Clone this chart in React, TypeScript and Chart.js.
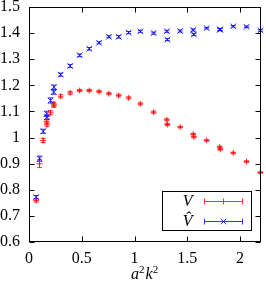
import React, { useEffect, useRef } from 'react';
import { Chart, registerables } from 'chart.js';

Chart.register(...registerables);

// ---- data ----
const a2k2 = [0.068, 0.100, 0.134, 0.167, 0.170, 0.204, 0.234, 0.236, 0.300, 0.390, 0.480, 0.571, 0.664, 0.757, 0.850, 0.944, 1.055, 1.181, 1.306, 1.311, 1.433, 1.556, 1.562, 1.683, 1.807, 1.812, 1.935, 2.061, 2.192];
const vValues = [0.759, 0.900, 0.989, 1.062, 1.049, 1.095, 1.128, 1.124, 1.158, 1.171, 1.180, 1.180, 1.176, 1.168, 1.161, 1.152, 1.129, 1.097, 1.068, 1.050, 1.040, 1.013, 1.002, 0.989, 0.964, 0.955, 0.941, 0.908, 0.866];
const vErrors = [0.006, 0.015, 0.008, 0.006, 0.006, 0.008, 0.008, 0.008, 0.006, 0.005, 0.004, 0.004, 0.004, 0.004, 0.005, 0.004, 0.004, 0.004, 0.004, 0.004, 0.003, 0.003, 0.003, 0.003, 0.003, 0.003, 0.003, 0.003, 0.003];
const vhatValues = [0.772, 0.919, 1.024, 1.091, 1.078, 1.142, 1.174, 1.193, 1.241, 1.274, 1.315, 1.340, 1.363, 1.386, 1.386, 1.402, 1.407, 1.400, 1.407, 1.375, 1.408, 1.412, 1.395, 1.419, 1.413, 1.414, 1.426, 1.424, 1.410];
const vhatErrors = [0.006, 0.010, 0.008, 0.010, 0.008, 0.010, 0.008, 0.008, 0.006, 0.006, 0.005, 0.005, 0.004, 0.004, 0.005, 0.004, 0.004, 0.004, 0.004, 0.004, 0.004, 0.004, 0.004, 0.003, 0.004, 0.004, 0.003, 0.003, 0.003];

const xTickValues = [0, 0.5, 1, 1.5, 2];
const yTickValues = [0.6, 0.7, 0.8, 0.9, 1.0, 1.1, 1.2, 1.3, 1.4, 1.5];
const legendLabels = ['V', 'V\u0302'];
const xTitleBase = ['a', 'k'];
const xTitleSup = '2';

const FONT = '"Liberation Serif", "DejaVu Serif", serif';
const RED = '#ff0000';
const BLUE = '#0000ff';
const MARK_W = 0.8;

const errorBarPlugin = {
  id: 'errorBars',
  beforeDatasetsDraw(chart: any) {
    const ctx = chart.ctx;
    const xs = chart.scales.x;
    const ys = chart.scales.y;
    chart.data.datasets.forEach((ds: any) => {
      ctx.save();
      ctx.strokeStyle = ds.borderColor;
      ctx.lineWidth = MARK_W;
      ds.data.forEach((p: any, i: number) => {
        const e = ds.errors[i];
        const px = xs.getPixelForValue(p.x);
        const y1 = ys.getPixelForValue(p.y - e);
        const y2 = ys.getPixelForValue(p.y + e);
        ctx.beginPath();
        ctx.moveTo(px, y1);
        ctx.lineTo(px, y2);
        ctx.moveTo(px - 2.5, y1);
        ctx.lineTo(px + 2.5, y1);
        ctx.moveTo(px - 2.5, y2);
        ctx.lineTo(px + 2.5, y2);
        ctx.stroke();
      });
      ctx.restore();
    });
  },
};

const framePlugin = {
  id: 'frame',
  afterDraw(chart: any) {
    const ctx = chart.ctx;
    const { left, right, top, bottom } = chart.chartArea;
    const xs = chart.scales.x;
    const ys = chart.scales.y;
    const L = Math.round(left) + 0.5;
    const R = Math.round(right) - 0.5;
    const T = Math.round(top) + 0.5;
    const B = Math.round(bottom) - 0.5;
    ctx.save();
    ctx.strokeStyle = '#000';
    ctx.lineWidth = 1;
    ctx.strokeRect(L, T, R - L, B - T);
    ctx.beginPath();
    const tl = 5;
    xTickValues.forEach((v) => {
      const px = Math.round(xs.getPixelForValue(v)) + 0.5;
      ctx.moveTo(px, B);
      ctx.lineTo(px, B - tl);
      ctx.moveTo(px, T);
      ctx.lineTo(px, T + tl);
    });
    yTickValues.forEach((v) => {
      const py = Math.round(ys.getPixelForValue(v)) + 0.5;
      ctx.moveTo(L, py);
      ctx.lineTo(L + tl, py);
      ctx.moveTo(R, py);
      ctx.lineTo(R - tl, py);
    });
    ctx.stroke();

    // x axis title: a^2 k^2
    const base = 'italic 16px ' + FONT;
    const sup = '11px ' + FONT;
    ctx.fillStyle = '#000';
    ctx.textBaseline = 'alphabetic';
    ctx.textAlign = 'left';
    let total = 0;
    const parts: { t: string; f: string; dy: number }[] = [];
    xTitleBase.forEach((b) => {
      parts.push({ t: b, f: base, dy: 0 });
      parts.push({ t: xTitleSup, f: sup, dy: -6 });
    });
    parts.forEach((p) => {
      ctx.font = p.f;
      total += ctx.measureText(p.t).width + (p.dy ? 1 : 0);
    });
    let cx = (left + right) / 2 - total / 2;
    const baseY = 279;
    parts.forEach((p) => {
      ctx.font = p.f;
      ctx.fillText(p.t, cx, baseY + p.dy);
      cx += ctx.measureText(p.t).width + (p.dy ? 1 : 0);
    });

    // legend
    const bx1 = Math.round(right) - 99 + 0.5;
    const bx2 = Math.round(right) - 10 + 0.5;
    const by1 = Math.round(bottom) - 51 + 0.5;
    const by2 = Math.round(bottom) - 12 + 0.5;
    ctx.strokeStyle = '#000';
    ctx.lineWidth = 1;
    ctx.strokeRect(bx1, by1, bx2 - bx1, by2 - by1);
    const rows = [
      { label: legendLabels[0], color: RED, style: 'plus', y: by1 + 9.5 },
      { label: legendLabels[1], color: BLUE, style: 'x', y: by1 + 29 },
    ];
    rows.forEach((r) => {
      ctx.font = 'italic 16px ' + FONT;
      ctx.fillStyle = '#000';
      ctx.textAlign = 'right';
      ctx.textBaseline = 'middle';
      ctx.fillText(r.label, bx1 + 30, r.y + 1);
      const x1 = bx1 + 42;
      const x2 = bx1 + 80;
      const xm = (x1 + x2) / 2;
      const yy = Math.round(r.y) + 0.5;
      ctx.strokeStyle = r.color;
      ctx.lineWidth = MARK_W;
      ctx.beginPath();
      ctx.moveTo(x1, yy);
      ctx.lineTo(x2, yy);
      ctx.moveTo(x1, yy - 3);
      ctx.lineTo(x1, yy + 3);
      ctx.moveTo(x2, yy - 3);
      ctx.lineTo(x2, yy + 3);
      if (r.style === 'plus') {
        ctx.moveTo(xm, yy - 3);
        ctx.lineTo(xm, yy + 3);
      } else {
        ctx.moveTo(xm - 2.8, yy - 2.8);
        ctx.lineTo(xm + 2.8, yy + 2.8);
        ctx.moveTo(xm - 2.8, yy + 2.8);
        ctx.lineTo(xm + 2.8, yy - 2.8);
      }
      ctx.stroke();
    });
    ctx.restore();
  },
};

const fmt = (v: number) => String(Math.round(v * 10) / 10);

export default function App() {
  const ref = useRef<HTMLCanvasElement | null>(null);
  useEffect(() => {
    document.body.style.margin = '0';
    const canvas = ref.current;
    if (!canvas) return;
    const chart = new Chart(canvas, {
      type: 'scatter',
      data: {
        datasets: [
          {
            label: legendLabels[0],
            data: a2k2.map((x, i) => ({ x, y: vValues[i] })),
            errors: vErrors,
            borderColor: RED,
            backgroundColor: 'rgba(0,0,0,0)',
            pointStyle: 'cross',
            pointRadius: 3,
            pointBorderWidth: MARK_W,
            clip: 6,
          } as any,
          {
            label: legendLabels[1],
            data: a2k2.map((x, i) => ({ x, y: vhatValues[i] })),
            errors: vhatErrors,
            borderColor: BLUE,
            backgroundColor: 'rgba(0,0,0,0)',
            pointStyle: 'crossRot',
            pointRadius: 4,
            pointBorderWidth: MARK_W,
            clip: 6,
          } as any,
        ],
      },
      options: {
        animation: false,
        responsive: true,
        maintainAspectRatio: false,
        events: [],
        layout: { padding: { top: 7, right: 2, left: 0, bottom: 0 } },
        plugins: { legend: { display: false }, tooltip: { enabled: false } },
        scales: {
          x: {
            type: 'linear',
            min: 0,
            max: 2.2,
            grid: { display: false, drawTicks: false },
            border: { display: false },
            afterBuildTicks: (s: any) => {
              s.ticks = xTickValues.map((v) => ({ value: v }));
            },
            afterFit: (s: any) => {
              s.height = 40;
              s.paddingLeft = 0;
              s.paddingRight = 0;
            },
            ticks: {
              color: '#000',
              font: { family: FONT, size: 16 },
              padding: 7,
              maxRotation: 0,
              autoSkip: false,
              callback: (v: any) => fmt(Number(v)),
            },
          },
          y: {
            type: 'linear',
            min: 0.6,
            max: 1.5,
            grid: { display: false, drawTicks: false },
            border: { display: false },
            afterBuildTicks: (s: any) => {
              s.ticks = yTickValues.map((v) => ({ value: v }));
            },
            afterFit: (s: any) => {
              s.width = 29;
              s.paddingTop = 0;
              s.paddingBottom = 0;
            },
            ticks: {
              color: '#000',
              font: { family: FONT, size: 16 },
              padding: 9,
              autoSkip: false,
              callback: (v: any) => fmt(Number(v)),
            },
          },
        },
      } as any,
      plugins: [errorBarPlugin, framePlugin],
    });
    return () => chart.destroy();
  }, []);
  return (
    <div style={{ position: 'relative', width: 266, height: 282 }}>
      <canvas ref={ref} />
    </div>
  );
}
